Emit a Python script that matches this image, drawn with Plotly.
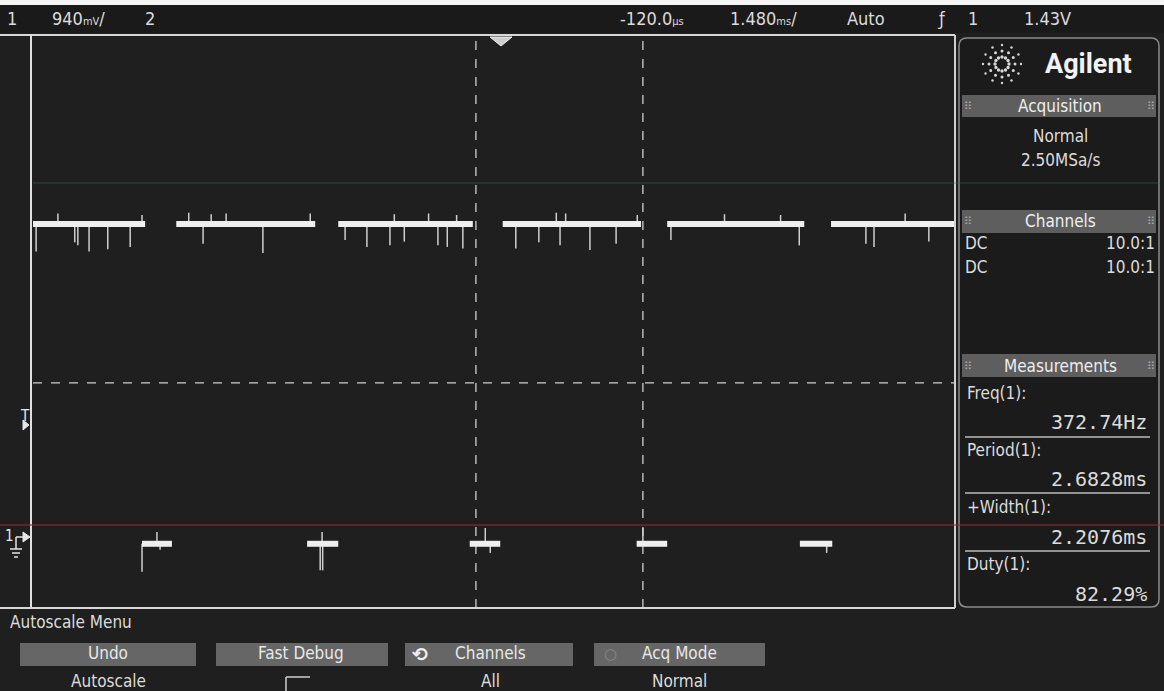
import math
import plotly.graph_objects as go

volts_per_div = 0.94          # channel 1, V/div
time_per_div = 1.48           # ms/div
n_hdiv = 10
n_vdiv = 8
ground_offset_div = 0.953     # ground marker position, divisions above the bottom

high_level = 4.16             # V
low_level = -0.05             # V
high_starts = [0.00, 2.30, 4.90, 7.54, 10.18, 12.81]   # ms
high_ends = [1.80, 4.53, 7.06, 9.76, 12.38, 14.80]
low_starts = [1.75, 4.40, 7.01, 9.69, 12.31]
low_ends = [2.23, 4.90, 7.50, 10.18, 12.83]

hi_dip_t = [0.05, 0.67, 0.72, 0.90, 1.20, 1.56, 2.73, 3.69, 5.01, 5.36, 5.73,
            5.96, 6.50, 6.65, 6.90, 7.75, 8.12, 8.46, 8.94, 9.36, 10.24, 12.30,
            13.37, 13.50, 14.38]
hi_dip_v = [3.80, 3.92, 3.88, 3.80, 3.83, 3.86, 3.90, 3.78, 3.95, 3.86, 3.88,
            3.93, 3.88, 3.86, 3.84, 3.84, 3.92, 3.88, 3.82, 3.90, 3.95, 3.88,
            3.90, 3.86, 3.93]
hi_up_t = [0.40, 1.75, 2.50, 2.86, 3.10, 4.45, 5.80, 6.35, 6.80, 8.40, 8.55,
           9.70, 11.10, 12.00, 14.00]
hi_up_v = [4.30, 4.28, 4.31, 4.29, 4.30, 4.30, 4.29, 4.30, 4.28, 4.31, 4.30,
           4.28, 4.29, 4.28, 4.30]
lo_spike_t = [1.75, 1.99, 2.04, 4.61, 4.65, 4.64, 7.26, 7.34, 9.79, 12.74]
lo_spike_v = [-0.42, 0.105, -0.13, -0.40, -0.40, 0.105, 0.158, -0.17, 0.158, -0.17]

threshold_v = 2.07            # dashed measurement level
cursor_t = [7.11, 9.79]       # period cursors, ms

top_labels = ["1", "940<span style='font-size:11px'>mV</span>/", "2",
              "-120.0<span style='font-size:11px'>µs</span>",
              "1.480<span style='font-size:11px'>ms</span>/", "Auto", "ƒ", "1", "1.43V"]
acq_lines = ["Normal", "2.50MSa/s"]
channel_rows = [("DC", "10.0:1"), ("DC", "10.0:1")]
meas_names = ["Freq(1):", "Period(1):", "+Width(1):", "Duty(1):"]
meas_values = ["372.74Hz", "2.6828ms", "2.2076ms", "82.29%"]
softkey_top = ["Undo", "Fast Debug", "Channels", "Acq Mode"]
softkey_bottom = ["Autoscale", "", "All", "Normal"]

# ---------------- page geometry ----------------
W, H = 1164, 691
PL, PR, PT, PB = 33, 955, 37, 608
FONT = "Liberation Sans Narrow, DejaVu Sans Condensed, Roboto Condensed, Roboto, sans-serif"
MONO = "DejaVu Sans Mono, Liberation Mono, monospace"
TC = "#dcdcdc"
BG = "#1e1f1e"


def X(px):
    return px / W


def Y(py):
    return 1 - py / H


shapes = []
annotations = []


def rect(x0, y0, x1, y1, fill, line=None, lw=0, layer="below"):
    shapes.append(dict(type="rect", xref="paper", yref="paper", x0=X(x0), x1=X(x1),
                       y0=Y(y0), y1=Y(y1), fillcolor=fill, layer=layer,
                       line=dict(color=line or fill, width=lw)))


def hline(x0, x1, y, color, w=1.5, dash=None, layer="above"):
    shapes.append(dict(type="line", xref="paper", yref="paper", x0=X(x0), x1=X(x1),
                       y0=Y(y), y1=Y(y), layer=layer,
                       line=dict(color=color, width=w, dash=dash)))


def vline(x, y0, y1, color, w=1.5, layer="above"):
    shapes.append(dict(type="line", xref="paper", yref="paper", x0=X(x), x1=X(x),
                       y0=Y(y0), y1=Y(y1), layer=layer, line=dict(color=color, width=w)))


def txt(x, y, s, size=17, anchor="left", color=TC, family=FONT):
    annotations.append(dict(x=X(x), y=Y(y), xref="paper", yref="paper", text=s,
                            showarrow=False, xanchor=anchor, yanchor="middle",
                            font=dict(size=size, color=color, family=family)))


# top strip / bar
rect(0, 0, W, 5, "#f4f4f4")
rect(0, 5, W, 33, "#1a1a1a")
hline(0, PR, 35, "#d8d8d8", 2)
# plot frame
vline(PL - 2, 35, PB, "#e0e0e0", 2)
hline(0, PR, PB, "#d8d8d8", 2)
vline(PR, 35, PB, "#cfcfcf", 2)

# right panel
px0, py0, px1, py1, r = 959, 38, 1159, 607, 8
path = (f"M {X(px0 + r)},{Y(py0)} L {X(px1 - r)},{Y(py0)} Q {X(px1)},{Y(py0)} {X(px1)},{Y(py0 + r)} "
        f"L {X(px1)},{Y(py1 - r)} Q {X(px1)},{Y(py1)} {X(px1 - r)},{Y(py1)} "
        f"L {X(px0 + r)},{Y(py1)} Q {X(px0)},{Y(py1)} {X(px0)},{Y(py1 - r)} "
        f"L {X(px0)},{Y(py0 + r)} Q {X(px0)},{Y(py0)} {X(px0 + r)},{Y(py0)} Z")
shapes.append(dict(type="path", xref="paper", yref="paper", path=path, fillcolor="#1b1b1b",
                   line=dict(color="#8a8a8a", width=1.5), layer="below"))
for (b0, b1) in [(95, 117), (210, 233), (354, 377)]:
    rect(962, b0, 1156, b1, "#5e5e5e", layer="below")
for yy in [437, 493, 551]:
    hline(965, 1150, yy, "#bdbdbd", 1.5)

# scan artefact lines
hline(PL, 1160, 183, "rgba(40,120,75,0.55)", 1)
hline(0, W, 525, "rgba(150,40,60,0.75)", 1.5)

# softkey buttons
btns = [(20, 196), (216, 388), (405, 573), (594, 765)]
for (b0, b1) in btns:
    rect(b0, 643, b1, 666, "#666666", layer="below")
# fast debug indicator
hline(286, 310, 677, "#cfcfcf", 1.5)
vline(286, 677, 691, "#cfcfcf", 1.5)

# left markers: trigger level T and ground 1
shapes.append(dict(type="path", xref="paper", yref="paper",
                   path=f"M {X(23)},{Y(420)} L {X(29)},{Y(425)} L {X(23)},{Y(430)} Z",
                   fillcolor="#e6e6e6", line=dict(color="#e6e6e6", width=1)))
vline(16, 549, 537, "#e6e6e6", 1.5)
hline(16, 23, 537, "#e6e6e6", 1.5)
shapes.append(dict(type="path", xref="paper", yref="paper",
                   path=f"M {X(23)},{Y(532)} L {X(30)},{Y(537)} L {X(23)},{Y(542)} Z",
                   fillcolor="#e6e6e6", line=dict(color="#e6e6e6", width=1)))
hline(10, 22, 549, "#e6e6e6", 1.5)
hline(12, 20, 553, "#e6e6e6", 1.5)
hline(14, 18, 557, "#e6e6e6", 1.5)
# trigger position marker at top
shapes.append(dict(type="path", xref="paper", yref="paper",
                   path=f"M {X(490)},{Y(37)} L {X(512)},{Y(37)} L {X(501)},{Y(46)} Z",
                   fillcolor="#cfcfcf", line=dict(color="#eeeeee", width=1)))

# Agilent starburst logo
cx, cy = 1002, 64
for k in range(12):
    a = k * math.pi / 6
    for rr, sz in [(7, 1.7), (13, 1.5), (19, 1.2)]:
        x = cx + rr * math.cos(a)
        y = cy + rr * math.sin(a)
        shapes.append(dict(type="circle", xref="paper", yref="paper",
                           x0=X(x - sz), x1=X(x + sz), y0=Y(y - sz), y1=Y(y + sz),
                           fillcolor="#d8d8d8", line=dict(width=0)))

# ---------------- texts ----------------
top_x = [12, 50, 143, 618, 728, 845, 935, 966, 1073]
for i, s in enumerate(top_labels):
    txt(top_x[i], 18, s, 18, "right" if i == len(top_labels) - 1 else ("center" if i == 0 else "left"))

txt(1088, 64, "<b>Agilent</b>", 27, "center", "#f2f2f2", "Roboto, Liberation Sans, sans-serif")
for (yy, label) in [(106, "Acquisition"), (221, "Channels"), (366, "Measurements")]:
    txt(1060, yy, label, 17, "center", "#eeeeee")
    txt(968, yy, "⠿", 11, "center", "#a8a8a8", "DejaVu Sans")
    txt(1151, yy, "⠿", 11, "center", "#a8a8a8", "DejaVu Sans")
txt(1060, 136, acq_lines[0], 17, "center")
txt(1060, 160, acq_lines[1], 17, "center")
for i, (a, b) in enumerate(channel_rows):
    txt(963, 243 + 24 * i, a, 17, "left")
    txt(1157, 243 + 24 * i, b, 17, "right")
name_y = [393, 450, 507, 564]
val_y = [422, 479, 537, 594]
for i in range(len(meas_names)):
    txt(965, name_y[i], meas_names[i], 17, "left")
    txt(1149, val_y[i], meas_values[i], 20, "right", TC, MONO)

txt(8, 622, "Autoscale Menu", 17, "left")
key_cx = [108, 301, 490, 679]
for i in range(4):
    txt(key_cx[i], 653, softkey_top[i], 17, "center", "#e8e8e8")
    if softkey_bottom[i]:
        txt(key_cx[i], 681, softkey_bottom[i], 17, "center")
txt(420, 654, "<b>⟲</b>", 19, "center", "#f0f0f0", "DejaVu Sans")
txt(610, 654, "○", 15, "center", "#888888", "DejaVu Sans")

txt(25, 416, "T", 15, "center", "#e6e6e6")
txt(9, 536, "1", 15, "center", "#e6e6e6")

# ---------------- traces ----------------
fig = go.Figure()


def segs(starts, ends, level):
    xs, ys = [], []
    for s, e in zip(starts, ends):
        xs += [s, e, None]
        ys += [level, level, None]
    return xs, ys


def spikes(ts, vs, base):
    xs, ys = [], []
    for t, v in zip(ts, vs):
        xs += [t, t, None]
        ys += [base, v, None]
    return xs, ys


for (ts, vs, base) in [(hi_dip_t, hi_dip_v, high_level), (hi_up_t, hi_up_v, high_level),
                       (lo_spike_t, lo_spike_v, low_level)]:
    sx, sy = spikes(ts, vs, base)
    fig.add_trace(go.Scatter(x=sx, y=sy, mode="lines", line=dict(color="#cfcfcf", width=1.5),
                             hoverinfo="skip", showlegend=False))

hx, hy = segs(high_starts, high_ends, high_level)
fig.add_trace(go.Scatter(x=hx, y=hy, mode="lines", line=dict(color="#efefef", width=6),
                         hoverinfo="skip", showlegend=False))
lx, ly = segs(low_starts, low_ends, low_level)
fig.add_trace(go.Scatter(x=lx, y=ly, mode="lines", line=dict(color="#efefef", width=6),
                         hoverinfo="skip", showlegend=False))

# dashed measurement level and cursors (data coordinates)
y_min = -ground_offset_div * volts_per_div
y_max = y_min + n_vdiv * volts_per_div
x_max = n_hdiv * time_per_div
shapes.append(dict(type="line", xref="x", yref="y", x0=0, x1=x_max, y0=threshold_v, y1=threshold_v,
                   line=dict(color="#cfcfcf", width=1.3, dash="dash"), layer="below"))
for t in cursor_t:
    shapes.append(dict(type="line", xref="x", yref="y", x0=t, x1=t, y0=y_min, y1=y_max,
                       line=dict(color="#cfcfcf", width=1.3, dash="dash"), layer="below"))

fig.update_layout(
    width=W, height=H, margin=dict(l=0, r=0, t=0, b=0),
    paper_bgcolor=BG, plot_bgcolor=BG,
    xaxis=dict(domain=[X(PL), X(PR)], range=[0, x_max], showgrid=False, zeroline=False,
               showticklabels=False, ticks="", fixedrange=True),
    yaxis=dict(domain=[Y(PB), Y(PT)], range=[y_min, y_max], showgrid=False, zeroline=False,
               showticklabels=False, ticks="", fixedrange=True),
    shapes=shapes, annotations=annotations, showlegend=False,
)

fig.write_html("out.html", config={"displayModeBar": False},
               post_script="document.body.style.margin='0';document.body.style.overflow='hidden';")
